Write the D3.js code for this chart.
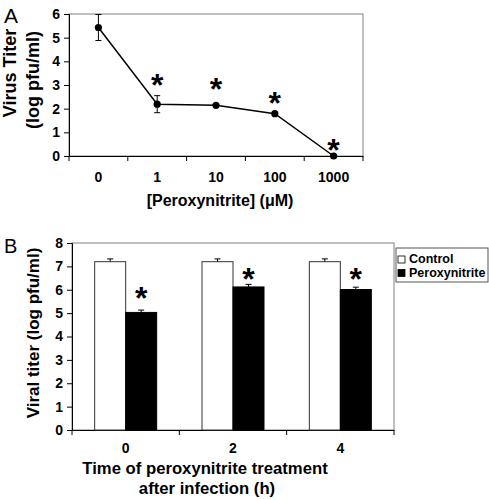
<!DOCTYPE html>
<html><head><meta charset="utf-8">
<script src="https://cdn.jsdelivr.net/npm/d3@7"></script>
<style>
body{margin:0;background:#fff;}
text{font-family:"Liberation Sans",Arial,sans-serif;}
</style></head>
<body><svg id="c" width="489" height="500"></svg>
<script>
// Panel A data
const concLabels = ["0","1","10","100","1000"];
const titerA = [5.43, 2.19, 2.14, 1.79, 0.0];
const errA = [0.55, 0.36, 0.05, 0.05, 0.0];
const starLevelA = [null, 3.3, 3.13, 2.5, 0.55];
const yTicksA = [0,1,2,3,4,5,6];

// Panel B data
const timeLabels = ["0","2","4"];
const seriesNames = ["Control","Peroxynitrite"];
const controlVals = [7.2, 7.2, 7.2];
const peroxVals = [5.03, 6.12, 6.01];
const controlErr = [0.12, 0.12, 0.12];
const peroxErr = [0.1, 0.11, 0.1];
const starLevelB = [5.91, 6.74, 6.74];
const yTicksB = [0,1,2,3,4,5,6,7,8];

const svg = d3.select("#c");
const STAR = 32;

function styleAxis(a){
  a.selectAll("text").attr("font-size",14).attr("font-weight","bold").attr("fill","#000")
    .style("font-family","Liberation Sans, Arial");
  a.select(".domain").attr("stroke","#000");
  a.selectAll("line").attr("stroke","#000");
}

// ---------- Panel A ----------
const A = {l:69, r:363, t:14, b:156};
const xA = d3.scaleBand().domain(concLabels).range([A.l, A.r]);
const yA = d3.scaleLinear().domain([0,6]).range([A.b, A.t]);
const gA = svg.append("g");
gA.append("rect").attr("x",A.l).attr("y",A.t).attr("width",A.r-A.l).attr("height",A.b-A.t)
  .attr("fill","none").attr("stroke","#808080").attr("stroke-width",1);
const axAy = gA.append("g").attr("transform",`translate(${A.l},0)`)
  .call(d3.axisLeft(yA).tickValues(yTicksA).tickSize(5).tickPadding(4).tickFormat(d3.format("d")));
const axAx = gA.append("g").attr("transform",`translate(0,${A.b})`)
  .call(d3.axisBottom(xA).tickSize(0).tickPadding(16));
styleAxis(axAy); styleAxis(axAx);
gA.append("g").selectAll("line").data(d3.range(concLabels.length+1)).join("line")
  .attr("x1",i=>A.l+i*xA.step()).attr("x2",i=>A.l+i*xA.step())
  .attr("y1",A.b).attr("y2",A.b+5).attr("stroke","#000");
const ptsA = concLabels.map((c,i)=>({x:xA(c)+xA.bandwidth()/2, v:titerA[i], e:errA[i], s:starLevelA[i]}));
ptsA.filter(p=>p.e>0.06).forEach(p=>{
  gA.append("line").attr("x1",p.x).attr("x2",p.x).attr("y1",yA(p.v+p.e)).attr("y2",yA(p.v-p.e)).attr("stroke","#000");
  [p.v+p.e,p.v-p.e].forEach(v=>gA.append("line").attr("x1",p.x-3).attr("x2",p.x+3).attr("y1",yA(v)).attr("y2",yA(v)).attr("stroke","#000"));
});
gA.append("path").datum(ptsA).attr("d",d3.line().x(d=>d.x).y(d=>yA(d.v)))
  .attr("fill","none").attr("stroke","#000").attr("stroke-width",1.5);
gA.selectAll("circle").data(ptsA).join("circle").attr("cx",d=>d.x).attr("cy",d=>yA(d.v)).attr("r",3.6).attr("fill","#000");
gA.selectAll("text.star").data(ptsA.filter(p=>p.s!==null)).join("text").attr("class","star")
  .attr("x",d=>d.x).attr("y",d=>yA(d.s)+STAR*0.55).attr("text-anchor","middle")
  .attr("font-size",STAR).attr("font-weight","bold").text("*");
gA.append("text").attr("x",4).attr("y",23).attr("font-size",21).text("A");
gA.append("text").attr("transform",`translate(16,73) rotate(-90)`).attr("text-anchor","middle")
  .attr("font-size",18).attr("font-weight","bold").text("Virus Titer");
gA.append("text").attr("transform",`translate(39,80) rotate(-90)`).attr("text-anchor","middle")
  .attr("font-size",18).attr("font-weight","bold").text("(log pfu/ml)");
gA.append("text").attr("x",220).attr("y",206).attr("text-anchor","middle")
  .attr("font-size",16).attr("font-weight","bold").text("[Peroxynitrite] (μM)");

// ---------- Panel B ----------
const B = {l:72, r:394, t:243, b:430};
const xB = d3.scaleBand().domain(timeLabels).range([B.l, B.r]);
const xSub = d3.scaleBand().domain(seriesNames).range([0,62]);
const yB = d3.scaleLinear().domain([0,8]).range([B.b, B.t]);
const gB = svg.append("g");
gB.append("rect").attr("x",B.l).attr("y",B.t).attr("width",B.r-B.l).attr("height",B.b-B.t)
  .attr("fill","none").attr("stroke","#808080");
const axBy = gB.append("g").attr("transform",`translate(${B.l},0)`)
  .call(d3.axisLeft(yB).tickValues(yTicksB).tickSize(5).tickPadding(4).tickFormat(d3.format("d")));
const axBx = gB.append("g").attr("transform",`translate(0,${B.b})`)
  .call(d3.axisBottom(xB).tickSize(0).tickPadding(13));
styleAxis(axBy); styleAxis(axBx);
gB.append("g").selectAll("line").data(d3.range(timeLabels.length+1)).join("line")
  .attr("x1",i=>B.l+i*xB.step()).attr("x2",i=>B.l+i*xB.step())
  .attr("y1",B.b).attr("y2",B.b+5).attr("stroke","#000");
const barData = [];
timeLabels.forEach((t,i)=>{
  barData.push({t, i, s:"Control", v:controlVals[i], e:controlErr[i]});
  barData.push({t, i, s:"Peroxynitrite", v:peroxVals[i], e:peroxErr[i]});
});
const gx = t => xB(t) + xB.bandwidth()/2 - 31;
const bcx = d => gx(d.t)+xSub(d.s)+xSub.bandwidth()/2;
gB.selectAll("rect.bar").data(barData).join("rect").attr("class","bar")
  .attr("x",d=>gx(d.t)+xSub(d.s)).attr("width",xSub.bandwidth())
  .attr("y",d=>yB(d.v)).attr("height",d=>yB(0)-yB(d.v))
  .attr("fill",d=>d.s==="Control"?"#fff":"#000").attr("stroke",d=>d.s==="Control"?"#333":"#000").attr("stroke-width",1);
barData.forEach(d=>{
  const cx = bcx(d);
  gB.append("line").attr("x1",cx).attr("x2",cx).attr("y1",yB(d.v)).attr("y2",yB(d.v+d.e)).attr("stroke","#000");
  gB.append("line").attr("x1",cx-3).attr("x2",cx+3).attr("y1",yB(d.v+d.e)).attr("y2",yB(d.v+d.e)).attr("stroke","#000");
});
gB.selectAll("text.star").data(barData.filter(d=>d.s==="Peroxynitrite")).join("text").attr("class","star")
  .attr("x",d=>bcx(d)).attr("y",d=>yB(starLevelB[d.i])+STAR*0.55).attr("text-anchor","middle")
  .attr("font-size",STAR).attr("font-weight","bold").text("*");
gB.append("text").attr("x",4).attr("y",253).attr("font-size",20).text("B");
gB.append("text").attr("transform",`translate(39,333) rotate(-90)`).attr("text-anchor","middle")
  .attr("font-size",17).attr("font-weight","bold").text("Viral titer (log pfu/ml)");
gB.append("text").attr("x",205).attr("y",474).attr("text-anchor","middle")
  .attr("font-size",16.7).attr("font-weight","bold").text("Time of peroxynitrite treatment");
gB.append("text").attr("x",207).attr("y",494).attr("text-anchor","middle")
  .attr("font-size",16.7).attr("font-weight","bold").text("after infection (h)");
// legend
const lg = gB.append("g").attr("transform","translate(396,248)");
lg.append("rect").attr("width",92).attr("height",34).attr("fill","#fff").attr("stroke","#555");
seriesNames.forEach((s,i)=>{
  lg.append("rect").attr("x",2).attr("y",8+i*13.5).attr("width",7).attr("height",7)
    .attr("fill",i===0?"#fff":"#000").attr("stroke","#000").attr("stroke-width",0.8);
  lg.append("text").attr("x",13).attr("y",15+i*13.5).attr("font-size",12.5).attr("font-weight","bold").text(s);
});
</script></body></html>
